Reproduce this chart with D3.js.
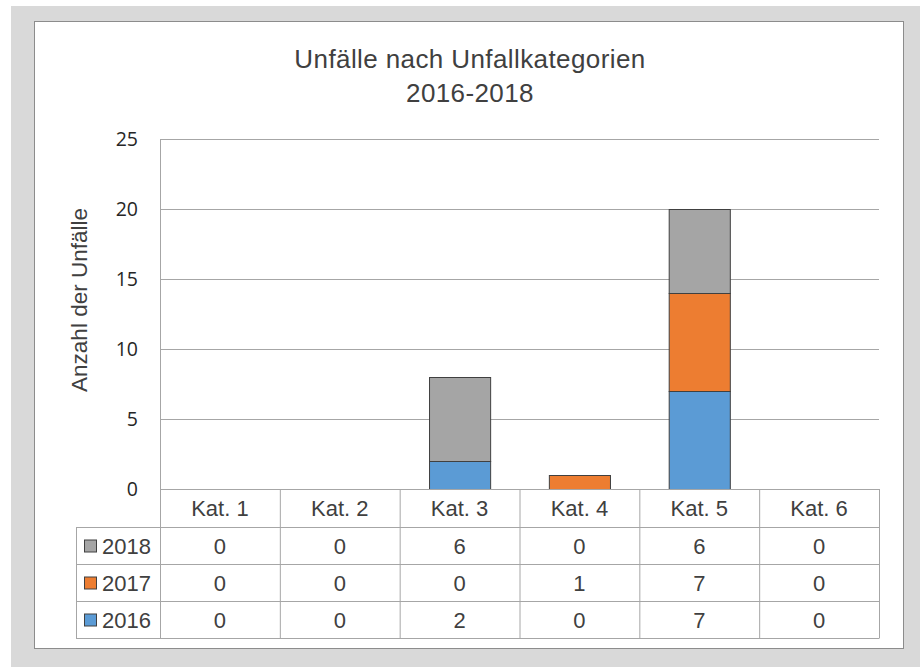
<!DOCTYPE html>
<html>
<head>
<meta charset="utf-8">
<script src="https://cdn.jsdelivr.net/npm/d3@7"></script>
<style>
  body { margin: 0; background: #ffffff; }
  svg { display: block; }
</style>
</head>
<body>
<div id="chart"></div>
<script>
// data
var categories = ['Kat. 1', 'Kat. 2', 'Kat. 3', 'Kat. 4', 'Kat. 5', 'Kat. 6'];
var years = ['2016', '2017', '2018'];
var values2016 = [0, 0, 2, 0, 7, 0];
var values2017 = [0, 0, 0, 1, 7, 0];
var values2018 = [0, 0, 6, 0, 6, 0];
var yTicks = [0, 5, 10, 15, 20, 25];
var titleLines = ['Unfälle nach Unfallkategorien', '2016-2018'];
var yAxisLabel = 'Anzahl der Unfälle';

var colors = { '2016': '#5b9bd5', '2017': '#ed7d31', '2018': '#a5a5a5' };
var seriesValues = { '2016': values2016, '2017': values2017, '2018': values2018 };

var width = 920, height = 667;
var plot = { left: 160, right: 879, top: 139, bottom: 489 };
var rowH = 37;
var tableTop = plot.bottom;
var headerBottom = 527;
var legendLeft = 76;

var textFont = '"Liberation Sans", Arial, sans-serif';
var tickFont = '"Open Sans", "Liberation Sans", sans-serif';

var svg = d3.select('#chart').append('svg')
  .attr('width', width)
  .attr('height', height);

// frame
svg.append('rect').attr('x', 11).attr('y', 6).attr('width', width - 11).attr('height', height - 6)
  .attr('fill', '#d9d9d9');
svg.append('rect').attr('x', 34.5).attr('y', 21.5).attr('width', 869).attr('height', 627)
  .attr('fill', '#ffffff').attr('stroke', '#8c8c8c').attr('stroke-width', 1);

// title
svg.append('text')
  .attr('x', 470)
  .attr('y', 68)
  .attr('text-anchor', 'middle')
  .style('font-family', textFont)
  .style('font-size', '26px')
  .style('letter-spacing', '0.4px')
  .attr('fill', '#404040')
  .selectAll('tspan')
  .data(titleLines)
  .enter().append('tspan')
  .attr('x', 470)
  .attr('dy', function(d, i) { return i === 0 ? 0 : 34; })
  .text(function(d) { return d; });

// scales
var col = d3.scaleBand()
  .domain(categories)
  .range([plot.left, plot.right])
  .padding(0);

var x = d3.scaleBand()
  .domain(categories)
  .range([plot.left, plot.right])
  .paddingInner(0.49)
  .paddingOuter(0.245);

var y = d3.scaleLinear()
  .domain([0, 25])
  .range([plot.bottom, plot.top]);

// grid
var yAxis = d3.axisLeft(y)
  .tickValues(yTicks)
  .tickSize(-(plot.right - plot.left))
  .tickPadding(22);

var gy = svg.append('g')
  .attr('transform', 'translate(' + plot.left + ',0)')
  .call(yAxis);
gy.select('.domain').remove();
gy.selectAll('.tick line')
  .attr('stroke', '#a6a6a6')
  .attr('stroke-width', 1);
gy.selectAll('.tick text')
  .style('font-family', tickFont)
  .style('font-size', '19.5px')
  .attr('fill', '#262626');

// left axis line
svg.append('line')
  .attr('x1', plot.left + 0.5).attr('x2', plot.left + 0.5)
  .attr('y1', plot.top).attr('y2', plot.bottom)
  .attr('stroke', '#a6a6a6');

// y label
svg.append('text')
  .attr('transform', 'translate(87,' + ((plot.top + plot.bottom) / 2 - 14) + ') rotate(-90)')
  .attr('text-anchor', 'middle')
  .style('font-family', textFont)
  .style('font-size', '22.5px')
  .attr('fill', '#404040')
  .text(yAxisLabel);

// stacked bars
var table = categories.map(function(c, i) {
  var row = { cat: c };
  years.forEach(function(yr) { row[yr] = seriesValues[yr][i]; });
  return row;
});
var stack = d3.stack().keys(years)(table);

svg.append('g').selectAll('g')
  .data(stack)
  .enter().append('g')
  .attr('fill', function(d) { return colors[d.key]; })
  .selectAll('rect')
  .data(function(d) { return d.filter(function(p) { return p[1] - p[0] > 0; }); })
  .enter().append('rect')
  .attr('x', function(d) { return x(d.data.cat) + 0.5; })
  .attr('y', function(d) { return y(d[1]) + 0.5; })
  .attr('width', x.bandwidth())
  .attr('height', function(d) { return y(d[0]) - y(d[1]); })
  .attr('stroke', '#404040')
  .attr('stroke-width', 1);

// data table
var rows = years.slice().reverse();
var tableBottom = headerBottom + rows.length * rowH;
var lines = svg.append('g').attr('stroke', '#a6a6a6').attr('stroke-width', 1);

// horizontal
lines.append('line')
  .attr('x1', plot.left).attr('x2', plot.right)
  .attr('y1', tableTop + 0.5).attr('y2', tableTop + 0.5);
d3.range(rows.length + 1).forEach(function(i) {
  var yy = headerBottom + i * rowH + 0.5;
  lines.append('line')
    .attr('x1', legendLeft).attr('x2', plot.right)
    .attr('y1', yy).attr('y2', yy);
});
// vertical
categories.forEach(function(c) {
  lines.append('line')
    .attr('x1', col(c) + 0.5).attr('x2', col(c) + 0.5)
    .attr('y1', tableTop).attr('y2', tableBottom);
});
lines.append('line')
  .attr('x1', plot.right + 0.5).attr('x2', plot.right + 0.5)
  .attr('y1', tableTop).attr('y2', tableBottom + 0.5);
lines.append('line')
  .attr('x1', legendLeft + 0.5).attr('x2', legendLeft + 0.5)
  .attr('y1', headerBottom).attr('y2', tableBottom + 0.5);

// header
svg.append('g').selectAll('text')
  .data(categories)
  .enter().append('text')
  .attr('x', function(d) { return col(d) + col.bandwidth() / 2; })
  .attr('y', (tableTop + headerBottom) / 2 + 8)
  .attr('text-anchor', 'middle')
  .style('font-family', textFont)
  .style('font-size', '22px')
  .attr('fill', '#404040')
  .text(function(d) { return d; });

// rows
var rowG = svg.append('g').selectAll('g')
  .data(rows)
  .enter().append('g')
  .attr('transform', function(d, i) { return 'translate(0,' + (headerBottom + i * rowH) + ')'; });

rowG.append('rect')
  .attr('x', 84.5).attr('y', rowH / 2 - 6 + 0.5)
  .attr('width', 12).attr('height', 12)
  .attr('fill', function(d) { return colors[d]; })
  .attr('stroke', '#404040');

rowG.append('text')
  .attr('x', 102)
  .attr('y', rowH / 2 + 8)
  .style('font-family', textFont)
  .style('font-size', '22px')
  .attr('fill', '#404040')
  .text(function(d) { return d; });

rowG.selectAll('text.val')
  .data(function(yr) { return seriesValues[yr].map(function(v, i) { return { v: v, cat: categories[i] }; }); })
  .enter().append('text')
  .attr('class', 'val')
  .attr('x', function(d) { return col(d.cat) + col.bandwidth() / 2; })
  .attr('y', rowH / 2 + 8)
  .attr('text-anchor', 'middle')
  .style('font-family', textFont)
  .style('font-size', '22px')
  .attr('fill', '#404040')
  .text(function(d) { return d.v; });
</script>
</body>
</html>
